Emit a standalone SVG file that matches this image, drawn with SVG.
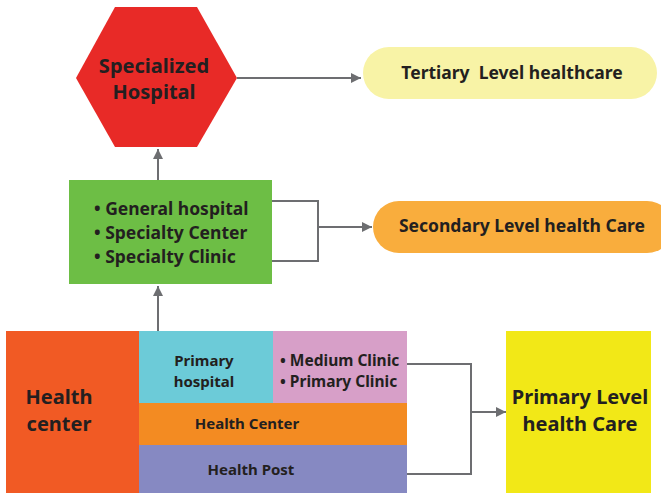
<svg xmlns="http://www.w3.org/2000/svg" width="661" height="493" viewBox="0 0 661 493">
<style>
text{font-family:"Noto Sans","Open Sans","Liberation Sans",sans-serif;font-weight:bold;fill:#231f20}
.c{text-anchor:middle}
.ln{fill:none;stroke:#6d6e71;stroke-width:2}
</style>
<defs>
<marker id="ah" viewBox="0 0 10 10" refX="10" refY="5" markerWidth="10" markerHeight="10" markerUnits="userSpaceOnUse" orient="auto">
<path d="M0,0 L10,5 L0,10 z" fill="#6d6e71"/>
</marker>
</defs>
<rect width="661" height="493" fill="#fff"/>
<g id="connectors">
<path class="ln" d="M237,78 H361" marker-end="url(#ah)"/>
<path class="ln" d="M158,180 V149" marker-end="url(#ah)"/>
<path class="ln" d="M158,331 V286" marker-end="url(#ah)"/>
<path class="ln" d="M272,201 H318 V261 H272 M318,227 H372" marker-end="url(#ah)"/>
<path class="ln" d="M407,364 H471 V474 H407 M471,412 H506" marker-end="url(#ah)"/>
</g>
<g id="specialized">
<polygon points="115,7 197,7 237,78 197,147 115,147 76,78" fill="#e82a27"/>
<text class="c" x="154" y="73" font-size="20">Specialized</text>
<text class="c" x="154" y="99" font-size="20">Hospital</text>
</g>
<g id="tertiary">
<rect x="363" y="47" width="294" height="52" rx="26" fill="#f8f3a6"/>
<text class="c" x="512" y="79" font-size="17.5" xml:space="preserve" style="white-space:pre">Tertiary  Level healthcare</text>
</g>
<g id="general">
<rect x="69" y="180" width="203" height="104" fill="#6dbe45"/>
<text x="94" y="215" font-size="17.5">• General hospital</text>
<text x="94" y="239" font-size="17.5">• Specialty Center</text>
<text x="94" y="263" font-size="17.5">• Specialty Clinic</text>
</g>
<g id="secondary">
<rect x="373" y="201" width="300" height="52" rx="26" fill="#f9ad3d"/>
<text class="c" x="522" y="232" font-size="17.5">Secondary Level health Care</text>
</g>
<g id="healthcenter-left">
<rect x="6" y="331" width="133" height="162" fill="#f15a24"/>
<text class="c" x="59" y="404" font-size="20">Health</text>
<text class="c" x="59" y="431" font-size="20">center</text>
</g>
<g id="primary-hospital">
<rect x="139" y="331" width="134" height="72" fill="#6ccbd8"/>
<text class="c" x="204" y="366" font-size="15">Primary</text>
<text class="c" x="204" y="387" font-size="15">hospital</text>
</g>
<g id="clinics">
<rect x="273" y="331" width="134" height="72" fill="#d79fc8"/>
<text x="280" y="366" font-size="15.5">• Medium Clinic</text>
<text x="280" y="387" font-size="15.5">• Primary Clinic</text>
</g>
<g id="health-center">
<rect x="139" y="403" width="268" height="42" fill="#f38b22"/>
<text class="c" x="247" y="429" font-size="15">Health Center</text>
</g>
<g id="health-post">
<rect x="139" y="445" width="268" height="48" fill="#8689c2"/>
<text class="c" x="251" y="475" font-size="15">Health Post</text>
</g>
<g id="primary-level">
<rect x="506" y="331" width="145" height="162" fill="#f2e817"/>
<text class="c" x="580" y="404" font-size="20">Primary Level</text>
<text class="c" x="580" y="431" font-size="20">health Care</text>
</g>
</svg>
